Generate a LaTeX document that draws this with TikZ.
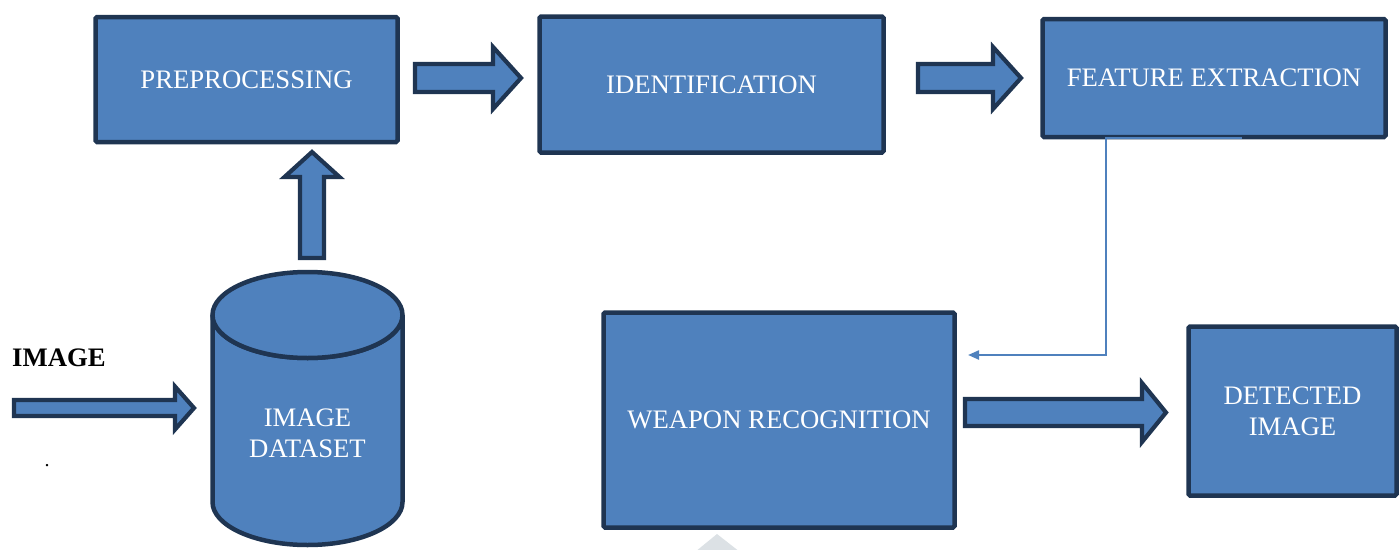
\documentclass[tikz,border=0pt]{standalone}
\usepackage{fontspec}
\setmainfont{Liberation Serif}
\usetikzlibrary{arrows.meta}
\definecolor{boxfill}{HTML}{4F81BD}
\definecolor{boxline}{HTML}{1F3552}
\definecolor{wmark}{HTML}{DCE1E5}
\tikzset{
  box/.style={draw=boxline, fill=boxfill, line width=4.5pt, rounded corners=1.5pt,
    text=white, align=center, inner sep=0pt,
    font=\fontsize{26.7}{31}\selectfont},
  barrow/.style={draw=boxline, fill=boxfill, line width=4.2pt, line join=miter, miter limit=10},
  conn/.style={draw=boxfill, line width=2.2pt, -{Triangle[length=11pt,width=9pt]}},
  lbl/.style={inner sep=0pt, font=\fontsize{26.7}{31}\selectfont}
}
\begin{document}
\begin{tikzpicture}[x=1pt,y=-1pt]
\useasboundingbox (0,0) rectangle (1400,549);
% watermark
\begin{scope}
\clip (0,0) rectangle (1400,549);
\fill[wmark] (717,534) -- (740,552) -- (695,552) -- cycle;
\end{scope}
% boxes
\node[box, minimum width=302pt, minimum height=125pt] (pre) at (246.5,79.5) {PREPROCESSING};
\node[box, minimum width=344pt, minimum height=136pt] (ident) at (711.5,84.5) {IDENTIFICATION};
\node[box, minimum width=343pt, minimum height=118pt] (fe) at (1214,78) {FEATURE EXTRACTION};
\node[box, minimum width=351pt, minimum height=215pt] (wr) at (779,420) {WEAPON RECOGNITION};
\node[box, minimum width=208pt, minimum height=169pt] (di) at (1292.5,411) {DETECTED\\IMAGE};
% cylinder
\draw[draw=boxline, fill=boxfill, line width=4.5pt]
  (212.5,315) -- (212.5,502) arc[start angle=180, end angle=0, x radius=95, y radius=43]
  -- (402.5,315) arc[start angle=0, end angle=180, x radius=95, y radius=43] -- cycle;
\draw[draw=boxline, fill=boxfill, line width=4.5pt] (307.5,315) ellipse[x radius=95, y radius=43];
\node[lbl, text=white, align=center] (ds) at (307.5,433) {IMAGE\\DATASET};
% input label
\node[lbl, anchor=west, font=\fontsize{26.7}{31}\selectfont\bfseries] (img) at (12,358) {IMAGE};
\node[lbl, font=\fontsize{20}{24}\selectfont] (dot) at (47,466) {.};
% block arrows
\draw[barrow] (14,400) -- (175,400) -- (175,386.5) -- (194,408) -- (175,429.5) -- (175,416) -- (14,416) -- cycle;
\draw[barrow] (415,64) -- (493,64) -- (493,47) -- (521,78) -- (493,109) -- (493,92) -- (415,92) -- cycle;
\draw[barrow] (918,64) -- (993,64) -- (993,47) -- (1021,78) -- (993,109) -- (993,92) -- (918,92) -- cycle;
\draw[barrow] (965,399) -- (1142,399) -- (1142,383) -- (1166,412.5) -- (1142,442) -- (1142,426) -- (965,426) -- cycle;
\draw[barrow] (300,258) -- (300,177) -- (284.5,177) -- (312,152) -- (339.5,177) -- (324,177) -- (324,258) -- cycle;
% connector from feature extraction to weapon recognition
\coordinate (c0) at (1242,138);
\coordinate (c1) at (1106,138);
\coordinate (c2) at (1106,355);
\coordinate (c3) at (968,355);
\draw[conn] (c0) -- (c1) -- (c2) -- (c3);
\end{tikzpicture}
\end{document}
